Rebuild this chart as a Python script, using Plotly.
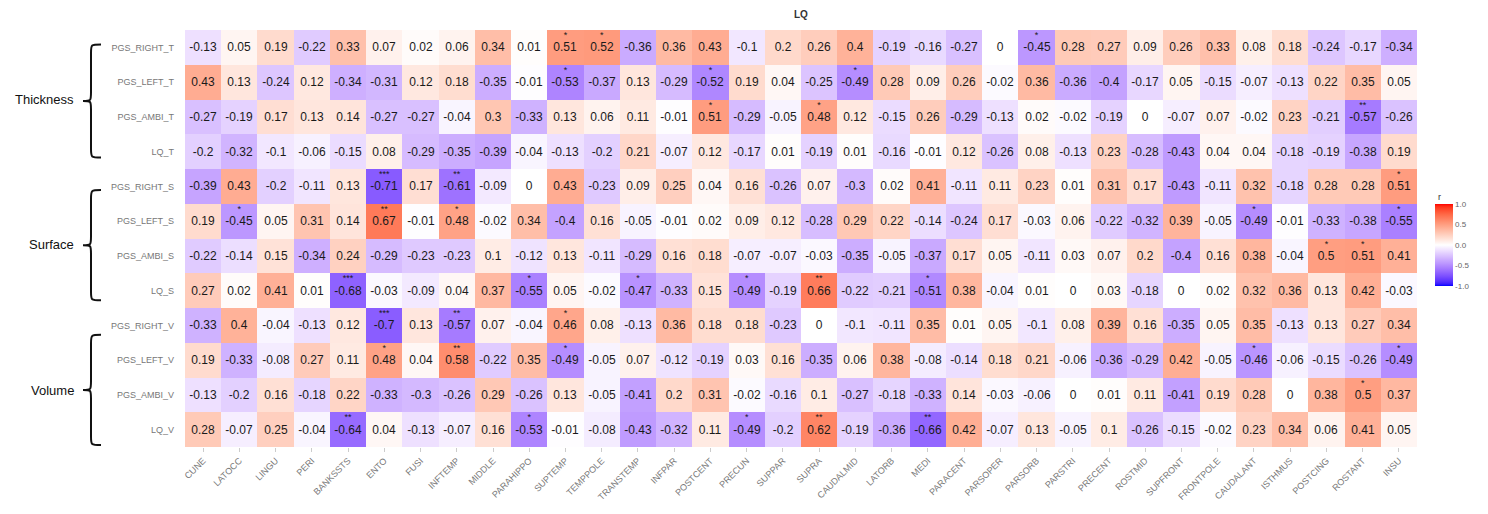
import plotly.graph_objects as go

# ---- data -----------------------------------------------------------------
columns = ["CUNE", "LATOCC", "LINGU", "PERI", "BANKSSTS", "ENTO", "FUSI", "INFTEMP",
           "MIDDLE", "PARAHIPPO", "SUPTEMP", "TEMPPOLE", "TRANSTEMP", "INFPAR",
           "POSTCENT", "PRECUN", "SUPPAR", "SUPRA", "CAUDALMID", "LATORB", "MEDI",
           "PARACENT", "PARSOPER", "PARSORB", "PARSTRI", "PRECENT", "ROSTMID",
           "SUPFRONT", "FRONTPOLE", "CAUDALANT", "ISTHMUS", "POSTCING", "ROSTANT", "INSU"]

row_names = ["PGS_RIGHT_T", "PGS_LEFT_T", "PGS_AMBI_T", "LQ_T",
             "PGS_RIGHT_S", "PGS_LEFT_S", "PGS_AMBI_S", "LQ_S",
             "PGS_RIGHT_V", "PGS_LEFT_V", "PGS_AMBI_V", "LQ_V"]

pgs_right_t = [-0.13, 0.05, 0.19, -0.22, 0.33, 0.07, 0.02, 0.06, 0.34, 0.01, 0.51, 0.52,
               -0.36, 0.36, 0.43, -0.1, 0.2, 0.26, 0.4, -0.19, -0.16, -0.27, 0, -0.45,
               0.28, 0.27, 0.09, 0.26, 0.33, 0.08, 0.18, -0.24, -0.17, -0.34]
pgs_left_t = [0.43, 0.13, -0.24, 0.12, -0.34, -0.31, 0.12, 0.18, -0.35, -0.01, -0.53, -0.37,
              0.13, -0.29, -0.52, 0.19, 0.04, -0.25, -0.49, 0.28, 0.09, 0.26, -0.02, 0.36,
              -0.36, -0.4, -0.17, 0.05, -0.15, -0.07, -0.13, 0.22, 0.35, 0.05]
pgs_ambi_t = [-0.27, -0.19, 0.17, 0.13, 0.14, -0.27, -0.27, -0.04, 0.3, -0.33, 0.13, 0.06,
              0.11, -0.01, 0.51, -0.29, -0.05, 0.48, 0.12, -0.15, 0.26, -0.29, -0.13, 0.02,
              -0.02, -0.19, 0, -0.07, 0.07, -0.02, 0.23, -0.21, -0.57, -0.26]
lq_t = [-0.2, -0.32, -0.1, -0.06, -0.15, 0.08, -0.29, -0.35, -0.39, -0.04, -0.13, -0.2,
        0.21, -0.07, 0.12, -0.17, 0.01, -0.19, 0.01, -0.16, -0.01, 0.12, -0.26, 0.08,
        -0.13, 0.23, -0.28, -0.43, 0.04, 0.04, -0.18, -0.19, -0.38, 0.19]
pgs_right_s = [-0.39, 0.43, -0.2, -0.11, 0.13, -0.71, 0.17, -0.61, -0.09, 0, 0.43, -0.23,
               0.09, 0.25, 0.04, 0.16, -0.26, 0.07, -0.3, 0.02, 0.41, -0.11, 0.11, 0.23,
               0.01, 0.31, 0.17, -0.43, -0.11, 0.32, -0.18, 0.28, 0.28, 0.51]
pgs_left_s = [0.19, -0.45, 0.05, 0.31, 0.14, 0.67, -0.01, 0.48, -0.02, 0.34, -0.4, 0.16,
              -0.05, -0.01, 0.02, 0.09, 0.12, -0.28, 0.29, 0.22, -0.14, -0.24, 0.17, -0.03,
              0.06, -0.22, -0.32, 0.39, -0.05, -0.49, -0.01, -0.33, -0.38, -0.55]
pgs_ambi_s = [-0.22, -0.14, 0.15, -0.34, 0.24, -0.29, -0.23, -0.23, 0.1, -0.12, 0.13, -0.11,
              -0.29, 0.16, 0.18, -0.07, -0.07, -0.03, -0.35, -0.05, -0.37, 0.17, 0.05, -0.11,
              0.03, 0.07, 0.2, -0.4, 0.16, 0.38, -0.04, 0.5, 0.51, 0.41]
lq_s = [0.27, 0.02, 0.41, 0.01, -0.68, -0.03, -0.09, 0.04, 0.37, -0.55, 0.05, -0.02,
        -0.47, -0.33, 0.15, -0.49, -0.19, 0.66, -0.22, -0.21, -0.51, 0.38, -0.04, 0.01,
        0, 0.03, -0.18, 0, 0.02, 0.32, 0.36, 0.13, 0.42, -0.03]
pgs_right_v = [-0.33, 0.4, -0.04, -0.13, 0.12, -0.7, 0.13, -0.57, 0.07, -0.04, 0.46, 0.08,
               -0.13, 0.36, 0.18, 0.18, -0.23, 0, -0.1, -0.11, 0.35, 0.01, 0.05, -0.1,
               0.08, 0.39, 0.16, -0.35, 0.05, 0.35, -0.13, 0.13, 0.27, 0.34]
pgs_left_v = [0.19, -0.33, -0.08, 0.27, 0.11, 0.48, 0.04, 0.58, -0.22, 0.35, -0.49, -0.05,
              0.07, -0.12, -0.19, 0.03, 0.16, -0.35, 0.06, 0.38, -0.08, -0.14, 0.18, 0.21,
              -0.06, -0.36, -0.29, 0.42, -0.05, -0.46, -0.06, -0.15, -0.26, -0.49]
pgs_ambi_v = [-0.13, -0.2, 0.16, -0.18, 0.22, -0.33, -0.3, -0.26, 0.29, -0.26, 0.13, -0.05,
              -0.41, 0.2, 0.31, -0.02, -0.16, 0.1, -0.27, -0.18, -0.33, 0.14, -0.03, -0.06,
              0, 0.01, 0.11, -0.41, 0.19, 0.28, 0, 0.38, 0.5, 0.37]
lq_v = [0.28, -0.07, 0.25, -0.04, -0.64, 0.04, -0.13, -0.07, 0.16, -0.53, -0.01, -0.08,
        -0.43, -0.32, 0.11, -0.49, -0.2, 0.62, -0.19, -0.36, -0.66, 0.42, -0.07, 0.13,
        -0.05, 0.1, -0.26, -0.15, -0.02, 0.23, 0.34, 0.06, 0.41, 0.05]

# significance marks (row, column, stars)
sig_marks = [
    ("PGS_RIGHT_T", "SUPTEMP", "*"), ("PGS_RIGHT_T", "TEMPPOLE", "*"), ("PGS_RIGHT_T", "PARSORB", "*"),
    ("PGS_LEFT_T", "SUPTEMP", "*"), ("PGS_LEFT_T", "POSTCENT", "*"), ("PGS_LEFT_T", "CAUDALMID", "*"),
    ("PGS_AMBI_T", "POSTCENT", "*"), ("PGS_AMBI_T", "SUPRA", "*"), ("PGS_AMBI_T", "ROSTANT", "**"),
    ("PGS_RIGHT_S", "ENTO", "***"), ("PGS_RIGHT_S", "INFTEMP", "**"), ("PGS_RIGHT_S", "INSU", "*"),
    ("PGS_LEFT_S", "LATOCC", "*"), ("PGS_LEFT_S", "ENTO", "**"), ("PGS_LEFT_S", "INFTEMP", "*"),
    ("PGS_LEFT_S", "CAUDALANT", "*"), ("PGS_LEFT_S", "INSU", "*"),
    ("PGS_AMBI_S", "POSTCING", "*"), ("PGS_AMBI_S", "ROSTANT", "*"),
    ("LQ_S", "BANKSSTS", "***"), ("LQ_S", "PARAHIPPO", "*"), ("LQ_S", "TRANSTEMP", "*"),
    ("LQ_S", "PRECUN", "*"), ("LQ_S", "SUPRA", "**"), ("LQ_S", "MEDI", "*"),
    ("PGS_RIGHT_V", "ENTO", "***"), ("PGS_RIGHT_V", "INFTEMP", "**"), ("PGS_RIGHT_V", "SUPTEMP", "*"),
    ("PGS_LEFT_V", "ENTO", "*"), ("PGS_LEFT_V", "INFTEMP", "**"), ("PGS_LEFT_V", "SUPTEMP", "*"),
    ("PGS_LEFT_V", "CAUDALANT", "*"), ("PGS_LEFT_V", "INSU", "*"),
    ("PGS_AMBI_V", "ROSTANT", "*"),
    ("LQ_V", "BANKSSTS", "**"), ("LQ_V", "PARAHIPPO", "*"), ("LQ_V", "PRECUN", "*"),
    ("LQ_V", "SUPRA", "**"), ("LQ_V", "MEDI", "**"),
]

groups = ["Thickness", "Surface", "Volume"]

z = [pgs_right_t, pgs_left_t, pgs_ambi_t, lq_t,
     pgs_right_s, pgs_left_s, pgs_ambi_s, lq_s,
     pgs_right_v, pgs_left_v, pgs_ambi_v, lq_v]


def fmt(v):
    s = f"{v:g}"
    return "0" if s in ("-0", "0") else s


labels = [[fmt(v) for v in row] for row in z]

# ---- diverging blue-white-red palette interpolated in CIE Lab --------------
def _hex_to_lab(h):
    r, g, b = (int(h[i:i + 2], 16) / 255 for i in (1, 3, 5))
    lin = [c / 12.92 if c <= 0.04045 else ((c + 0.055) / 1.055) ** 2.4 for c in (r, g, b)]
    X = (0.4124 * lin[0] + 0.3576 * lin[1] + 0.1805 * lin[2]) / 0.95047
    Y = (0.2126 * lin[0] + 0.7152 * lin[1] + 0.0722 * lin[2])
    Z = (0.0193 * lin[0] + 0.1192 * lin[1] + 0.9505 * lin[2]) / 1.08883
    f = lambda t: t ** (1 / 3) if t > 0.008856 else 7.787 * t + 16 / 116
    fx, fy, fz = f(X), f(Y), f(Z)
    return 116 * fy - 16, 500 * (fx - fy), 200 * (fy - fz)


def _lab_to_hex(L, a, b):
    fy = (L + 16) / 116
    fx = fy + a / 500
    fz = fy - b / 200
    finv = lambda t: t ** 3 if t ** 3 > 0.008856 else (t - 16 / 116) / 7.787
    X, Y, Z = finv(fx) * 0.95047, finv(fy), finv(fz) * 1.08883
    rl = 3.2406 * X - 1.5372 * Y - 0.4986 * Z
    gl = -0.9689 * X + 1.8758 * Y + 0.0415 * Z
    bl = 0.0557 * X - 0.2040 * Y + 1.0570 * Z
    out = []
    for c in (rl, gl, bl):
        c = 12.92 * c if c <= 0.0031308 else 1.055 * c ** (1 / 2.4) - 0.055
        out.append(max(0, min(255, round(c * 255))))
    return "#%02x%02x%02x" % tuple(out)


low, mid, high = _hex_to_lab("#0000ff"), _hex_to_lab("#ffffff"), _hex_to_lab("#ff0000")
colorscale = []
n = 40
for i in range(n + 1):
    p = i / n
    if p <= 0.5:
        t = p / 0.5
        lab = [lo + (mi - lo) * t for lo, mi in zip(low, mid)]
    else:
        t = (p - 0.5) / 0.5
        lab = [mi + (hi - mi) * t for mi, hi in zip(mid, high)]
    colorscale.append([p, _lab_to_hex(*lab)])

# ---- layout geometry (pixels) ----------------------------------------------
W, H = 1488, 514
L_M, R_M, T_M, B_M = 185, 71, 30, 49
PW, PH = W - L_M - R_M, H - T_M - B_M


def px(x):
    return (x - L_M) / PW


def py(y):
    return (H - B_M - y) / PH


FONT = "Liberation Sans, Arial, sans-serif"

fig = go.Figure()

fig.add_trace(go.Heatmap(
    z=z,
    x=list(range(len(columns))),
    y=list(range(len(row_names))),
    text=labels,
    texttemplate="%{text}",
    textfont=dict(family=FONT, size=12, color="#1a1a1a"),
    colorscale=colorscale,
    zmin=-1, zmax=1,
    xgap=0, ygap=0,
    hoverinfo="skip",
    colorbar=dict(
        x=px(1435), xanchor="left", xpad=0,
        y=py(254), yanchor="middle", ypad=0,
        lenmode="pixels", len=82,
        thickness=18, outlinewidth=0,
        tickvals=[-1, -0.5, 0, 0.5, 1],
        ticktext=["-1.0", "-0.5", "0.0", "0.5", "1.0"],
        ticks="", ticklabelposition="outside",
        tickfont=dict(family=FONT, size=8, color="#666666"),
    ),
))

# significance stars just above the coefficients
col_idx = {c: i for i, c in enumerate(columns)}
row_idx = {r: i for i, r in enumerate(row_names)}
fig.add_trace(go.Scatter(
    x=[col_idx[c] for _, c, _ in sig_marks],
    y=[row_idx[r] - 0.33 for r, _, _ in sig_marks],
    text=[s for _, _, s in sig_marks],
    mode="text",
    textfont=dict(family=FONT, size=9, color="#1a1a1a"),
    hoverinfo="skip",
    showlegend=False,
))

fig.update_xaxes(
    tickvals=list(range(len(columns))), ticktext=columns,
    range=[-0.5, len(columns) - 0.5],
    tickangle=-45, ticks="outside", ticklen=4, tickcolor="#cccccc",
    tickfont=dict(family=FONT, size=9, color="#777777"),
    showgrid=False, zeroline=False, showline=False,
)
fig.update_yaxes(
    tickvals=list(range(len(row_names))), ticktext=row_names,
    range=[len(row_names) - 0.5, -0.5],
    ticks="", ticklabelstandoff=10,
    tickfont=dict(family=FONT, size=9, color="#777777"),
    showgrid=False, zeroline=False, showline=False,
)

# group braces and labels
brace_spans = [(45, 163), (197, 312), (348, 463)]
label_y = [102, 254, 406]
shapes = []
annotations = []
for name, (y0, y1), ly in zip(groups, brace_spans, label_y):
    ym = (y0 + y1) / 2
    xt, xb, xe, r = 83, 91, 101, 9
    pts = [
        ("M", [(xe, y0)]),
        ("C", [(xb, y0), (xb, y0), (xb, y0 + r)]),
        ("L", [(xb, ym - r)]),
        ("C", [(xb, ym), (xb, ym), (xt, ym)]),
        ("C", [(xb, ym), (xb, ym), (xb, ym + r)]),
        ("L", [(xb, y1 - r)]),
        ("C", [(xb, y1), (xb, y1), (xe, y1)]),
    ]
    path = " ".join(cmd + " " + " ".join(f"{px(a):.5f},{py(b):.5f}" for a, b in p) for cmd, p in pts)
    shapes.append(dict(type="path", path=path, xref="paper", yref="paper",
                       line=dict(color="#111111", width=2)))
    annotations.append(dict(text=name, x=px(76), y=py(ly), xref="paper", yref="paper",
                            xanchor="right", yanchor="middle", showarrow=False,
                            font=dict(family=FONT, size=13, color="#111111")))

annotations.append(dict(text="r", x=px(1436), y=py(204), xref="paper", yref="paper",
                        xanchor="left", yanchor="middle", showarrow=False,
                        font=dict(family=FONT, size=9, color="#333333")))
annotations.append(dict(text="<b>LQ</b>", x=0.5, y=py(14), xref="paper", yref="paper",
                        xanchor="center", yanchor="middle", showarrow=False,
                        font=dict(family=FONT, size=10, color="#333333")))

fig.update_layout(
    width=W, height=H,
    margin=dict(l=L_M, r=R_M, t=T_M, b=B_M, pad=0),
    paper_bgcolor="white", plot_bgcolor="white",
    shapes=shapes, annotations=annotations,
    showlegend=False,
)

fig.write_html("out.html")
